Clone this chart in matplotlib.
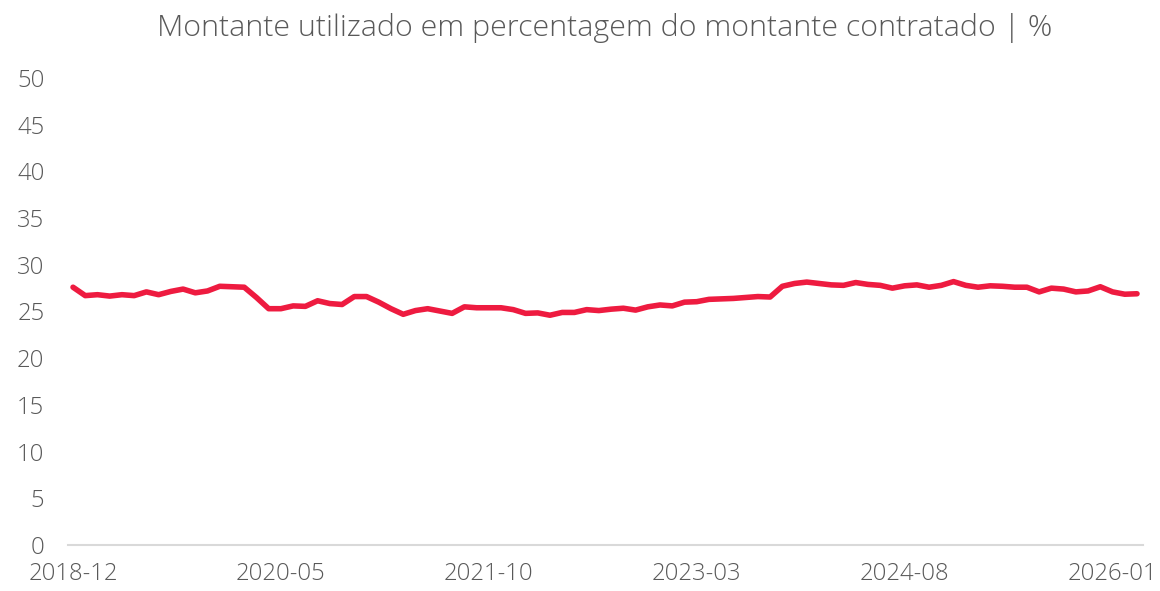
import matplotlib
matplotlib.use("Agg")
import matplotlib.pyplot as plt
import pandas as pd

title = "Montante utilizado em percentagem do montante contratado | %"

months = pd.period_range("2018-12", periods=88, freq="M").strftime("%Y-%m").tolist()
values = [
    27.6, 26.7, 26.8, 26.65, 26.8, 26.7, 27.1, 26.8, 27.15, 27.4,
    27.0, 27.2, 27.7, 27.65, 27.6, 26.5, 25.3, 25.3, 25.6, 25.55,
    26.15, 25.85, 25.75, 26.6, 26.6, 26.0, 25.3, 24.7, 25.1, 25.3,
    25.05, 24.8, 25.5, 25.4, 25.4, 25.4, 25.2, 24.8, 24.85, 24.6,
    24.9, 24.9, 25.2, 25.1, 25.25, 25.35, 25.15, 25.5, 25.7, 25.6,
    26.0, 26.05, 26.3, 26.35, 26.4, 26.5, 26.6, 26.55, 27.7, 28.0,
    28.15, 28.0, 27.85, 27.8, 28.1, 27.9, 27.8, 27.5, 27.75, 27.85,
    27.6, 27.8, 28.2, 27.8, 27.6, 27.75, 27.7, 27.6, 27.6, 27.1,
    27.5, 27.4, 27.1, 27.2, 27.65, 27.1, 26.85, 26.9,
]
tick_labels = ["2018-12", "2020-05", "2021-10", "2023-03", "2024-08", "2026-01"]
y_ticks = [0, 5, 10, 15, 20, 25, 30, 35, 40, 45, 50]

plt.rcParams["font.family"] = ["Open Sans", "DejaVu Sans"]
text_color = "#595959"

fig = plt.figure(figsize=(11.6, 5.91), dpi=100)
ax = fig.add_axes([68 / 1160, (591 - 545) / 591, (1143 - 68) / 1160, (545 - 78) / 591])

x = list(range(len(values)))
ax.plot(x, values, color="#EE1B40", linewidth=4.0, solid_joinstyle="round",
        solid_capstyle="round")

ax.set_xlim(-0.41, 87.49)
ax.set_ylim(0, 50)
ax.set_yticks(y_ticks)
ax.set_yticklabels([str(v) for v in y_ticks])
tick_pos = [months.index(t) for t in tick_labels]
ax.set_xticks(tick_pos)
ax.set_xticklabels(tick_labels)

for s in ["top", "right", "left"]:
    ax.spines[s].set_visible(False)
ax.spines["bottom"].set_color("#d9d9d9")
ax.spines["bottom"].set_linewidth(1.5)
ax.tick_params(axis="both", length=0, labelsize=17.2, colors=text_color)
ax.tick_params(axis="y", pad=17)
ax.tick_params(axis="x", pad=12)
for lbl in ax.get_xticklabels() + ax.get_yticklabels():
    lbl.set_fontweight("light")

fig.text(605 / 1160, 1 - 28 / 591, title, ha="center", va="center",
         fontsize=21.9, color=text_color, fontweight="light")

fig.savefig("out.png", dpi=100)
